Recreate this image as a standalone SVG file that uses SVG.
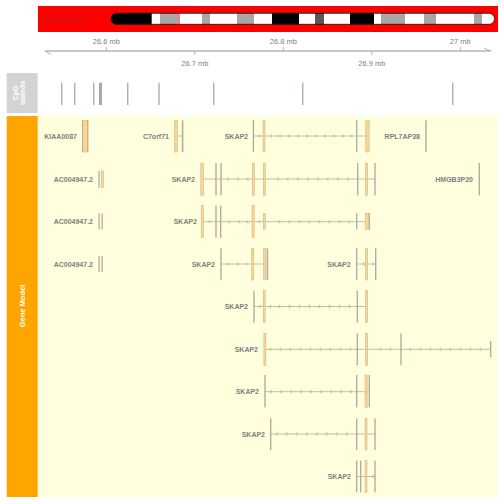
<svg xmlns="http://www.w3.org/2000/svg" xmlns:xlink="http://www.w3.org/1999/xlink" width="504" height="504" viewBox="0 0 504 504">
<style>
text{font-family:"Liberation Sans",Arial,sans-serif}
.lbl{font-size:7px;font-weight:bold;fill:#808080;text-anchor:end}
.ax{font-size:7.5px;fill:#808080;text-anchor:middle}
.ttl{font-size:7.5px;font-weight:bold;fill:#ffffff;text-anchor:middle}
.g{fill:#b2ad9f}
.o{fill:#ffd58a;stroke:#c2b08e;stroke-width:0.5}
.in{stroke:#b0aea4;stroke-width:0.8;fill:none}
.arr{stroke:#a9a79e;stroke-width:0.7;fill:none}
.cpg{fill:#a4abad}
</style>
<defs>
<path id="a" d="M2,-1.6 L0,0 L2,1.6" class="arr"/>
<clipPath id="chr"><rect x="111" y="13.3" width="383.5" height="11" rx="5.5"/></clipPath>
</defs>
<rect width="504" height="504" fill="#ffffff"/>
<!-- chromosome ideogram -->
<g id="ideogram">
<rect x="38" y="6" width="460" height="26" fill="#ff0000"/>
<text x="41" y="22.2" style="font-size:7.3px;fill:#b22020">Chromosome 7</text>
<g clip-path="url(#chr)">
<rect x="111" y="13" width="41" height="12" fill="#000"/>
<rect x="151.7" y="13" width="8.3" height="12" fill="#fff"/>
<rect x="160" y="13" width="18" height="12" fill="#a8a8a8"/>
<rect x="178" y="13" width="24" height="12" fill="#fff"/>
<rect x="202" y="13" width="8" height="12" fill="#a8a8a8"/>
<rect x="210" y="13" width="27" height="12" fill="#fff"/>
<rect x="237" y="13" width="17" height="12" fill="#a8a8a8"/>
<rect x="254" y="13" width="18" height="12" fill="#fff"/>
<rect x="272" y="13" width="27" height="12" fill="#000"/>
<rect x="299" y="13" width="16" height="12" fill="#fff"/>
<rect x="315" y="13" width="9" height="12" fill="#595959"/>
<rect x="324" y="13" width="26" height="12" fill="#fff"/>
<rect x="350" y="13" width="24" height="12" fill="#000"/>
<rect x="374" y="13" width="7" height="12" fill="#fff"/>
<rect x="381" y="13" width="24" height="12" fill="#a8a8a8"/>
<rect x="405" y="13" width="19" height="12" fill="#fff"/>
<rect x="424" y="13" width="12" height="12" fill="#a8a8a8"/>
<rect x="436" y="13" width="38" height="12" fill="#fff"/>
<rect x="474" y="13" width="8" height="12" fill="#a8a8a8"/>
<rect x="482" y="13" width="13" height="12" fill="#fff"/>
</g>
<rect x="111" y="13.3" width="383.5" height="11" rx="5.5" fill="none" stroke="#000" stroke-width="0.7"/>
<line x1="179" y1="9" x2="179" y2="29" stroke="#ff0000" stroke-width="1"/>
</g>
<!-- axis -->
<g id="axis" stroke="#b5b5b5" fill="none">
<line x1="45" y1="51" x2="491" y2="51" stroke-width="1.4"/>
<path d="M45,51 L51,54.5" stroke-width="1"/>
<path d="M491,51 L484,48" stroke-width="1"/>
<line x1="106.3" y1="47" x2="106.3" y2="51"/>
<line x1="283.3" y1="47" x2="283.3" y2="51"/>
<line x1="460.3" y1="47" x2="460.3" y2="51"/>
<line x1="194.8" y1="51" x2="194.8" y2="55"/>
<line x1="371.8" y1="51" x2="371.8" y2="55"/>
</g>
<g id="axis-labels">
<text class="ax" x="106.3" y="44">26.6 mb</text>
<text class="ax" x="283.3" y="44">26.8 mb</text>
<text class="ax" x="460.3" y="44">27 mb</text>
<text class="ax" x="194.8" y="65.5">26.7 mb</text>
<text class="ax" x="371.8" y="65.5">26.9 mb</text>
</g>
<!-- CpG track -->
<g id="cpg-title">
<rect x="6.7" y="73" width="31" height="40" fill="#d3d3d3"/>
<text class="ttl" style="font-size:7px" transform="translate(17.5,93) rotate(-90)">CpG</text>
<text class="ttl" style="font-size:7px" transform="translate(24.7,93) rotate(-90)">islands</text>
</g>
<g id="cpg-islands">
<rect class="cpg" x="61.1" y="82.7" width="1.3" height="22.3"/>
<rect class="cpg" x="74.1" y="82.7" width="1.3" height="22.3"/>
<rect class="cpg" x="93.1" y="82.7" width="1.3" height="22.3"/>
<rect class="cpg" x="99" y="82.7" width="3" height="22.3"/>
<rect class="cpg" x="127.1" y="82.7" width="1.3" height="22.3"/>
<rect class="cpg" x="158.4" y="82.7" width="1.3" height="22.3"/>
<rect class="cpg" x="213.1" y="82.7" width="1.3" height="22.3"/>
<rect class="cpg" x="302.1" y="82.7" width="1.3" height="22.3"/>
<rect class="cpg" x="452.1" y="82.7" width="1.3" height="22.3"/>
</g>
<!-- Gene model track -->
<g id="gene-title">
<rect x="6.7" y="116" width="31" height="381" fill="#ffa500"/>
<rect x="38" y="116" width="460" height="381" fill="#ffffdd"/>
<text class="ttl" transform="translate(25,306) rotate(-90)">Gene Model</text>
</g>
<g id="connectors">
<line class="in" x1="176" y1="136" x2="182" y2="136"/>
<line class="in" x1="253.5" y1="136" x2="369" y2="136"/>
<line class="in" x1="202" y1="179" x2="375" y2="179"/>
<line class="in" x1="202" y1="221.7" x2="369" y2="221.7"/>
<line class="in" x1="221" y1="264" x2="268" y2="264"/>
<line class="in" x1="356.7" y1="264" x2="375.7" y2="264"/>
<line class="in" x1="254" y1="306.5" x2="366.7" y2="306.5"/>
<line class="in" x1="265" y1="349.3" x2="490.7" y2="349.3"/>
<line class="in" x1="265" y1="391.7" x2="369" y2="391.7"/>
<line class="in" x1="270.7" y1="434" x2="375" y2="434"/>
<line class="in" x1="356.7" y1="476.5" x2="375" y2="476.5"/>
<use href="#a" x="258.3" y="136"/><use href="#a" x="270" y="136"/><use href="#a" x="279" y="136"/><use href="#a" x="288" y="136"/><use href="#a" x="297" y="136"/><use href="#a" x="306" y="136"/><use href="#a" x="315" y="136"/><use href="#a" x="324" y="136"/><use href="#a" x="333" y="136"/><use href="#a" x="342" y="136"/><use href="#a" x="350.5" y="136"/>
<use href="#a" x="226.7" y="179"/><use href="#a" x="236.7" y="179"/><use href="#a" x="246.7" y="179"/><use href="#a" x="276.7" y="179"/><use href="#a" x="286.7" y="179"/><use href="#a" x="296.7" y="179"/><use href="#a" x="306.7" y="179"/><use href="#a" x="316.7" y="179"/><use href="#a" x="326.7" y="179"/><use href="#a" x="336.7" y="179"/><use href="#a" x="346.7" y="179"/>
<use href="#a" x="208.3" y="221.7"/><use href="#a" x="228.3" y="221.7"/><use href="#a" x="238.3" y="221.7"/><use href="#a" x="246.5" y="221.7"/><use href="#a" x="258.3" y="221.7"/><use href="#a" x="278.3" y="221.7"/><use href="#a" x="288.3" y="221.7"/><use href="#a" x="298.3" y="221.7"/><use href="#a" x="308.3" y="221.7"/><use href="#a" x="318.3" y="221.7"/><use href="#a" x="328.3" y="221.7"/><use href="#a" x="338.3" y="221.7"/><use href="#a" x="348.3" y="221.7"/>
<use href="#a" x="226.7" y="264"/><use href="#a" x="236.7" y="264"/><use href="#a" x="245.5" y="264"/><use href="#a" x="362.7" y="264"/><use href="#a" x="372.2" y="264"/>
<use href="#a" x="259" y="306.5"/><use href="#a" x="269.3" y="306.5"/><use href="#a" x="278.3" y="306.5"/><use href="#a" x="288.3" y="306.5"/><use href="#a" x="298.3" y="306.5"/><use href="#a" x="308.3" y="306.5"/><use href="#a" x="318.3" y="306.5"/><use href="#a" x="328.3" y="306.5"/><use href="#a" x="338.3" y="306.5"/><use href="#a" x="348.3" y="306.5"/>
<use href="#a" x="269.3" y="349.3"/><use href="#a" x="279.3" y="349.3"/><use href="#a" x="289.3" y="349.3"/><use href="#a" x="299.3" y="349.3"/><use href="#a" x="309.3" y="349.3"/><use href="#a" x="319.3" y="349.3"/><use href="#a" x="329.3" y="349.3"/><use href="#a" x="339.3" y="349.3"/><use href="#a" x="349.3" y="349.3"/><use href="#a" x="379.3" y="349.3"/><use href="#a" x="389.3" y="349.3"/><use href="#a" x="409.3" y="349.3"/><use href="#a" x="419.3" y="349.3"/><use href="#a" x="429.3" y="349.3"/><use href="#a" x="439.3" y="349.3"/><use href="#a" x="449.3" y="349.3"/><use href="#a" x="459.3" y="349.3"/><use href="#a" x="469.3" y="349.3"/><use href="#a" x="479.3" y="349.3"/>
<use href="#a" x="270" y="391.7"/><use href="#a" x="280" y="391.7"/><use href="#a" x="290" y="391.7"/><use href="#a" x="300" y="391.7"/><use href="#a" x="310" y="391.7"/><use href="#a" x="320" y="391.7"/><use href="#a" x="330" y="391.7"/><use href="#a" x="340" y="391.7"/><use href="#a" x="350" y="391.7"/>
<use href="#a" x="275.7" y="434"/><use href="#a" x="285.7" y="434"/><use href="#a" x="295.7" y="434"/><use href="#a" x="305.7" y="434"/><use href="#a" x="315.7" y="434"/><use href="#a" x="325.7" y="434"/><use href="#a" x="335.7" y="434"/><use href="#a" x="345.7" y="434"/>
<use href="#a" x="371.8" y="476.5"/>
</g>
<g id="kiaa0087">
<text class="lbl" x="77" y="138.5">KIAA0087</text>
<rect class="o" x="82.3" y="120.3" width="5.6" height="31.7"/>
<rect class="g" x="82" y="120.3" width="1" height="31.7"/>
<rect class="g" x="87.3" y="120.3" width="1" height="31.7"/>
</g>
<g id="c7orf71">
<text class="lbl" x="169" y="138.5">C7orf71</text>
<rect class="o" x="174.5" y="120.3" width="3" height="31.7"/>
<rect class="g" x="181.8" y="120.3" width="1.6" height="31.7"/>
</g>
<g id="skap2-1">
<text class="lbl" x="248" y="138.5">SKAP2</text>
<rect class="g" x="252.7" y="120.3" width="1.4" height="31.7"/>
<rect class="o" x="263" y="120.3" width="2" height="31.7"/>
<rect class="g" x="356" y="120.3" width="1.4" height="31.7"/>
<rect class="o" x="365.8" y="120.3" width="3.4" height="31.7"/>
</g>
<g id="rpl7ap38">
<text class="lbl" x="420" y="138.5">RPL7AP38</text>
<rect class="g" x="425.3" y="120.3" width="1.4" height="31.7"/>
</g>
<g id="ac004947-1">
<text class="lbl" x="93" y="181.5">AC004947.2</text>
<rect class="g" x="98.4" y="171" width="1.3" height="16.7"/>
<rect class="o" x="101.2" y="171" width="2.3" height="16.7"/>
</g>
<g id="skap2-2">
<text class="lbl" x="195" y="181.5">SKAP2</text>
<rect class="o" x="200.8" y="163" width="2.6" height="32.3"/>
<rect class="g" x="215.3" y="163" width="1.4" height="32.3"/>
<rect class="g" x="220.3" y="163" width="1.4" height="32.3"/>
<rect class="o" x="252.3" y="163" width="2.1" height="32.3"/>
<rect class="o" x="263.3" y="163" width="2" height="32.3"/>
<rect class="g" x="357" y="163" width="1.4" height="32.3"/>
<rect class="o" x="365.6" y="163" width="2" height="32.3"/>
<rect class="g" x="374.3" y="163" width="1.4" height="32.3"/>
</g>
<g id="hmgb3p20">
<text class="lbl" x="473" y="181.5">HMGB3P20</text>
<rect class="g" x="478.6" y="163" width="1.4" height="32.3"/>
</g>
<g id="ac004947-2">
<text class="lbl" x="93" y="224.2">AC004947.2</text>
<rect class="g" x="98.4" y="213.5" width="1.3" height="16"/>
<rect class="g" x="101.5" y="213.5" width="1.3" height="16"/>
</g>
<g id="skap2-3">
<text class="lbl" x="197" y="224.2">SKAP2</text>
<rect class="o" x="201.2" y="205.7" width="2.2" height="32"/>
<rect class="g" x="215.3" y="205.7" width="1.4" height="32"/>
<rect class="g" x="220" y="205.7" width="1.4" height="32"/>
<rect class="o" x="252" y="205.7" width="2.2" height="32"/>
<rect class="o" x="263.3" y="213.3" width="2" height="16"/>
<rect class="g" x="356" y="213.3" width="1.4" height="16"/>
<rect class="o" x="365.6" y="213.3" width="4.2" height="16"/>
<rect class="g" x="368.7" y="213.3" width="1.2" height="16"/>
</g>
<g id="ac004947-3">
<text class="lbl" x="93" y="266.5">AC004947.2</text>
<rect class="g" x="98.4" y="256" width="1.3" height="16"/>
<rect class="g" x="101.5" y="256" width="1.3" height="16"/>
</g>
<g id="skap2-4">
<text class="lbl" x="215" y="266.5">SKAP2</text>
<rect class="g" x="220.3" y="248.3" width="1.4" height="31.7"/>
<rect class="o" x="251.6" y="248.3" width="2.2" height="31.7"/>
<rect class="o" x="263.5" y="248.3" width="2.2" height="31.7"/>
<rect class="g" x="266.6" y="248.3" width="1.6" height="31.7"/>
</g>
<g id="skap2-5">
<text class="lbl" x="350.7" y="266.5">SKAP2</text>
<rect class="g" x="356" y="248.3" width="1.4" height="31.7"/>
<rect class="o" x="365.6" y="248.3" width="2" height="31.7"/>
<rect class="g" x="375" y="248.3" width="1.4" height="31.7"/>
</g>
<g id="skap2-6">
<text class="lbl" x="248" y="309">SKAP2</text>
<rect class="g" x="253.3" y="290.7" width="1.4" height="32"/>
<rect class="o" x="263.2" y="290.7" width="2" height="32"/>
<rect class="g" x="356.6" y="290.7" width="1.4" height="32"/>
<rect class="o" x="365.6" y="290.7" width="2" height="32"/>
</g>
<g id="skap2-7">
<text class="lbl" x="258" y="351.8">SKAP2</text>
<rect class="o" x="263.9" y="333.3" width="2" height="32"/>
<rect class="g" x="356.6" y="333.3" width="1.4" height="32"/>
<rect class="o" x="365.6" y="333.3" width="2" height="32"/>
<rect class="g" x="400.3" y="333.3" width="1.4" height="32"/>
<rect class="g" x="490" y="341" width="1.4" height="16.3"/>
</g>
<g id="skap2-8">
<text class="lbl" x="259" y="394.2">SKAP2</text>
<rect class="g" x="264.3" y="375" width="1.4" height="32.3"/>
<rect class="g" x="356" y="375" width="1.4" height="32.3"/>
<rect class="o" x="365" y="375" width="2.2" height="32.3"/>
<rect class="g" x="368.6" y="375" width="1.4" height="32.3"/>
</g>
<g id="skap2-9">
<text class="lbl" x="265" y="436.5">SKAP2</text>
<rect class="g" x="270" y="418.3" width="1.4" height="31.7"/>
<rect class="g" x="356" y="418.3" width="1.4" height="31.7"/>
<rect class="o" x="365" y="418.3" width="2" height="31.7"/>
<rect class="g" x="374.3" y="418.3" width="1.4" height="31.7"/>
</g>
<g id="skap2-10">
<text class="lbl" x="351" y="479">SKAP2</text>
<rect class="g" x="356" y="460.7" width="1.4" height="31.6"/>
<rect class="g" x="360" y="460.7" width="1.4" height="31.6"/>
<rect class="o" x="365" y="460.7" width="2" height="31.6"/>
<rect class="g" x="374.3" y="460.7" width="1.4" height="31.6"/>
</g>
</svg>
